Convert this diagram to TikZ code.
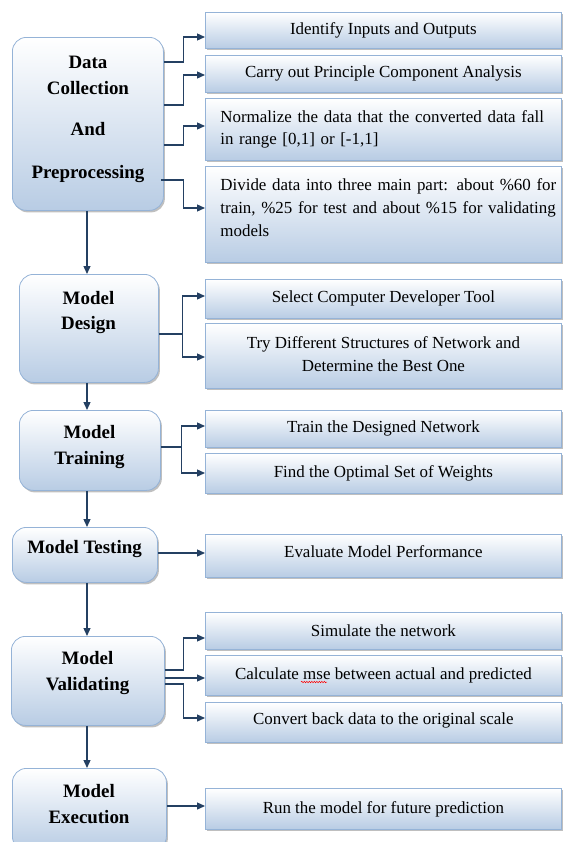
\documentclass[tikz,border=0pt]{standalone}
\usepackage{fontspec}
\setmainfont{Liberation Serif}
\usetikzlibrary{arrows.meta,shadows,decorations.pathmorphing}
\definecolor{boxline}{RGB}{149,179,215}
\definecolor{boxbot}{RGB}{184,204,228}
\definecolor{arrowc}{RGB}{36,64,98}
\begin{document}
\begin{tikzpicture}[x=1bp,y=-1bp,
  boxshadow/.style={drop shadow={shadow xshift=1.5bp,shadow yshift=-2bp,fill=black!50,opacity=0.5}},
  stage/.style={draw=boxline,line width=0.8bp,rounded corners=14bp,top color=white,bottom color=boxbot,
    anchor=north west,inner sep=0pt,boxshadow},
  task/.style={draw=boxline,line width=0.8bp,top color=white,bottom color=boxbot,
    anchor=north west,inner sep=0pt,minimum width=356bp,font=\fontsize{17}{23}\selectfont,align=center,boxshadow},
  stagetext/.style={font=\fontsize{19}{25}\selectfont\bfseries,inner sep=0pt,anchor=base},
  arr/.style={draw=arrowc,line width=1.3bp,-{Triangle[length=8bp,width=7bp]}},
]
\useasboundingbox (0,0) rectangle (563,842);
% stage boxes
\node[stage,minimum width=151bp,minimum height=173bp] (dc) at (12,37) {};
\node[stage,minimum width=139bp,minimum height=108bp] (md) at (19,274) {};
\node[stage,minimum width=141bp,minimum height=80bp] (mt) at (19,410) {};
\node[stage,minimum width=145bp,minimum height=55bp] (mts) at (12,527) {};
\node[stage,minimum width=153bp,minimum height=89bp] (mv) at (11,636) {};
\node[stage,minimum width=154bp,minimum height=82bp] (me) at (12,768) {};
% stage texts
\node[stagetext] (dct1) at (88,68.5) {Data};
\node[stagetext] (dct2) at (88,94.5) {Collection};
\node[stagetext] (dct3) at (88,135.5) {And};
\node[stagetext] (dct4) at (88,178.5) {Preprocessing};
\node[stagetext] (mdt1) at (88.5,304.5) {Model};
\node[stagetext] (mdt2) at (88.5,329.5) {Design};
\node[stagetext] (mtt1) at (89.5,438.5) {Model};
\node[stagetext] (mtt2) at (89.5,464.5) {Training};
\node[stagetext] (mtst1) at (84.5,553.5) {Model Testing};
\node[stagetext] (mvt1) at (87.5,664.5) {Model};
\node[stagetext] (mvt2) at (87.5,690.5) {Validating};
\node[stagetext] (met1) at (89,797.5) {Model};
\node[stagetext] (met2) at (89,823.5) {Execution};
% task boxes
\node[task,minimum height=36bp] (r1) at (205,12) {Identify Inputs and Outputs};
\node[task,minimum height=37bp] (r2) at (205,55) {Carry out Principle Component Analysis};
\node[task,minimum height=62bp,text width=340bp,align=left] (r3) at (205,98)
  {\hspace*{7bp}\makebox[333bp][s]{Normalize the data that the converted data fall}\\
   \hspace*{7bp}in range [0,1] or [-1,1]};
\node[task,minimum height=96bp,text width=340bp,align=left] (r4) at (205,166)
  {\hspace*{7bp}\makebox[333bp][s]{Divide data into three main part: about \%60 for}\\
   \hspace*{7bp}\makebox[333bp][s]{train, \%25 for test and about \%15 for validating}\\
   \hspace*{7bp}models\\[-9bp]\mbox{}};
\node[task,minimum height=39bp] (r5) at (205,279) {Select Computer Developer Tool};
\node[task,minimum height=65bp] (r6) at (205,323) {\raisebox{2bp}[\height][\depth]{Try Different Structures of Network and}\\\raisebox{2bp}[\height][\depth]{Determine the Best One}};
\node[task,minimum height=37bp] (r7) at (205,410) {Train the Designed Network};
\node[task,minimum height=40bp] (r8) at (205,453) {Find the Optimal Set of Weights};
\node[task,minimum height=43bp] (r9) at (205,534) {\raisebox{4bp}[\height][\depth]{Evaluate Model Performance}};
\node[task,minimum height=37bp] (r10) at (205,612) {Simulate the network};
\node[task,minimum height=40bp] (r11) at (205,655) {Calculate mse between actual and predicted};
\node[task,minimum height=40bp] (r12) at (205,702) {\raisebox{2bp}[\height][\depth]{Convert back data to the original scale}};
\node[task,minimum height=41bp] (r13) at (205,788) {Run the model for future prediction};
% spell-check squiggle under "mse"
\draw[red,line width=0.5bp,decorate,decoration={snake,amplitude=0.7bp,segment length=2.5bp}] (301,682) -- (327,682);
% connectors: data collection
\draw[arr] (dc.east |- 0,62) -- ++(20,0) |- (r1.west |- 0,37);
\draw[arr] (dc.east |- 0,105) -- ++(20,0) |- (r2.west |- 0,75);
\draw[arr] (dc.east |- 0,145) -- ++(20,0) |- (r3.west |- 0,126);
\draw[arr] ([xshift=-3bp]dc.east |- 0,180) -- ++(23,0) |- (r4.west |- 0,208);
% model design
\draw[arr] (md.east |- 0,334) -- ++(24,0) |- (r5.west |- 0,296);
\draw[arr] (md.east |- 0,334) -- ++(24,0) |- (r6.west |- 0,357);
% model training
\draw[arr] (mt.east |- 0,447) -- ++(21,0) |- (r7.west |- 0,426);
\draw[arr] (mt.east |- 0,447) -- ++(21,0) |- (r8.west |- 0,473);
% model testing
\draw[arr] (mts.east |- 0,553) -- (r9.west |- 0,553);
% model validating
\draw[arr] (mv.east |- 0,670) -- ++(19,0) |- (r10.west |- 0,638);
\draw[arr] (mv.east |- 0,678) -- (r11.west |- 0,678);
\draw[arr] (mv.east |- 0,684) -- ++(19,0) |- (r12.west |- 0,718);
% model execution
\draw[arr] (me.east |- 0,806) -- (r13.west |- 0,806);
% vertical flow
\draw[arr] (dc.south -| 87,0) -- (md.north -| 87,0);
\draw[arr] (md.south -| 87,0) -- (mt.north -| 87,0);
\draw[arr] (mt.south -| 87,0) -- (mts.north -| 87,0);
\draw[arr] (mts.south -| 87,0) -- (mv.north -| 87,0);
\draw[arr] (mv.south -| 87,0) -- (me.north -| 87,0);
\end{tikzpicture}
\end{document}
